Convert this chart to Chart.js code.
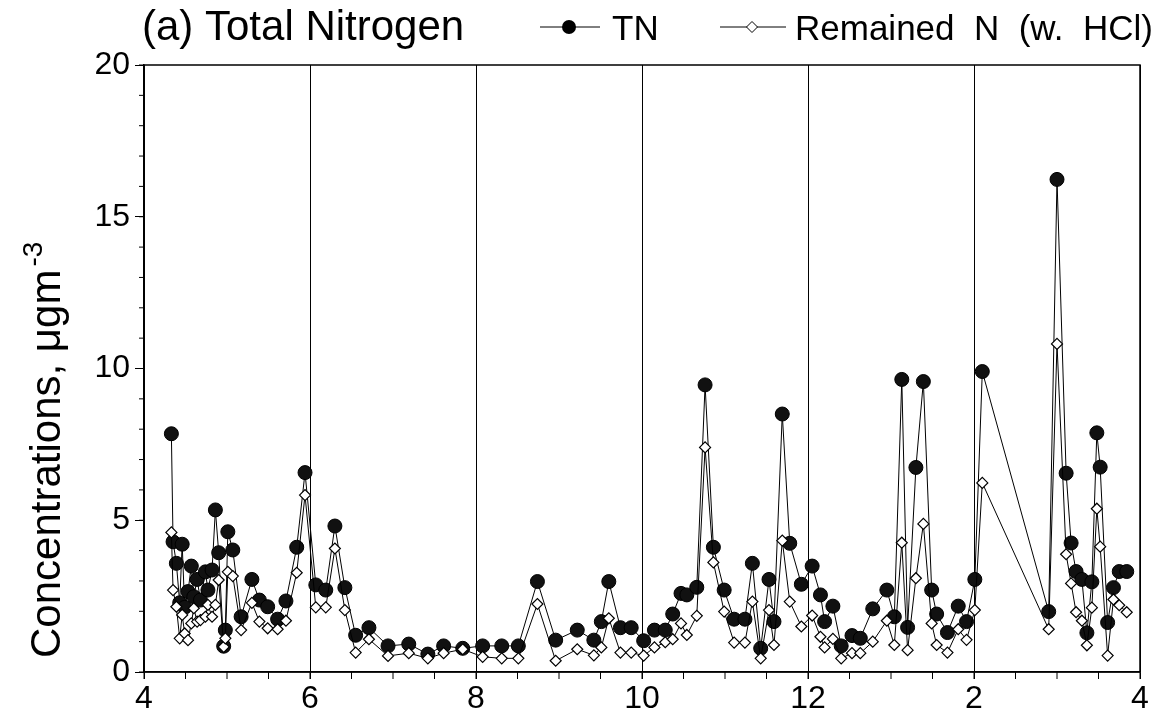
<!DOCTYPE html>
<html>
<head>
<meta charset="utf-8">
<script src="https://cdn.jsdelivr.net/npm/chart.js@4/dist/chart.umd.min.js"></script>
<style>
  body { margin: 0; background: #fff; }
  #wrap { width: 1161px; height: 712px; }
</style>
</head>
<body>
<div id="wrap"><canvas id="tnChart"></canvas></div>
<script>
// sampling dates as month numbers (4 = April ... 16 = April of next year)
const dates = [
  4.33, 4.35, 4.39, 4.43, 4.46, 4.49, 4.53, 4.57, 4.6, 4.64, 4.68, 4.74, 4.77, 4.82, 4.86,
  4.9, 4.96, 4.98, 5.01, 5.07, 5.17, 5.3, 5.39, 5.49, 5.61, 5.71, 5.84, 5.94, 6.07,
  6.19, 6.3, 6.42, 6.55, 6.71, 6.94, 7.19, 7.42, 7.61, 7.84, 8.08, 8.31, 8.51, 8.74, 8.96,
  9.22, 9.42, 9.51, 9.6, 9.74, 9.87,
  10.02, 10.15, 10.28, 10.37, 10.47, 10.54, 10.66, 10.76, 10.86, 10.99, 11.11, 11.24, 11.33,
  11.43, 11.53, 11.59, 11.69, 11.78, 11.92,
  12.05, 12.15, 12.2, 12.3, 12.4, 12.53, 12.63, 12.78, 12.95, 13.04, 13.13, 13.2, 13.3, 13.39,
  13.49, 13.55, 13.68, 13.81, 13.91, 14.01, 14.1,
  14.9, 15.0, 15.11, 15.17, 15.23, 15.3, 15.36, 15.42, 15.48, 15.52, 15.61, 15.68, 15.75, 15.84
];

const tn = [
  7.85, 4.29, 3.58, 2.28, 4.21, 2.13, 2.65, 3.49, 2.48, 3.05, 2.37, 3.3, 2.7, 3.36, 5.34,
  3.93, 0.85, 1.38, 4.62, 4.02, 1.82, 3.05, 2.37, 2.15, 1.74, 2.34, 4.11, 6.57, 2.87,
  2.7, 4.81, 2.78, 1.21, 1.46, 0.86, 0.92, 0.59, 0.86, 0.78, 0.86, 0.86, 0.86, 2.98, 1.05,
  1.38, 1.05, 1.66, 2.98, 1.46, 1.46,
  1.03, 1.38, 1.38, 1.91, 2.59, 2.54, 2.79, 9.46, 4.11, 2.7, 1.74, 1.74, 3.58,
  0.78, 3.05, 1.66, 8.5, 4.24, 2.89,
  3.49, 2.54, 1.66, 2.17, 0.86, 1.2, 1.11, 2.08, 2.7, 1.82, 9.64, 1.47, 6.74, 9.57,
  2.7, 1.91, 1.3, 2.17, 1.66, 3.05, 9.9,
  1.99, 16.23, 6.55, 4.25, 3.31, 3.05, 1.29, 2.97, 7.88, 6.75, 1.63, 2.78, 3.31, 3.31
];

const remainedN = [
  4.6, 2.7, 2.15, 1.11, 1.88, 1.27, 1.05, 1.6, 2.1, 1.66, 1.71, 1.82, 2.21, 1.82, 2.21,
  3.03, 0.83, 1.11, 3.3, 3.16, 1.38, 2.28, 1.66, 1.44, 1.41, 1.69, 3.27, 5.83, 2.13,
  2.13, 4.07, 2.04, 0.64, 1.08, 0.53, 0.62, 0.45, 0.62, 0.75, 0.5, 0.45, 0.45, 2.24, 0.37,
  0.75, 0.55, 0.81, 1.77, 0.64, 0.64,
  0.54, 0.81, 0.98, 1.08, 1.6, 1.22, 1.85, 7.4, 3.61, 1.99, 0.97, 0.97, 2.32,
  0.45, 2.04, 0.89, 4.33, 2.32, 1.5,
  1.86, 1.16, 0.81, 1.09, 0.45, 0.62, 0.62, 1.0, 1.69, 0.89, 4.26, 0.72, 3.09, 4.88,
  1.6, 0.89, 0.64, 1.41, 1.06, 2.04, 6.23,
  1.41, 10.81, 3.88, 2.92, 1.97, 1.69, 0.88, 2.12, 5.38, 4.13, 0.54, 2.39, 2.2, 1.97
];

const monthTicks = ['4', '6', '8', '10', '12', '2', '4'];
const titleText = '(a) Total Nitrogen';
const legendNames = ['TN', 'Remained  N  (w.  HCl)'];
const yTitle = 'Concentrations, \u03BCgm';
const yTitleSup = '-3';

const FONT = '"Liberation Sans", Arial, sans-serif';

function toPoints(vals) {
  return vals.map((v, i) => ({ x: dates[i], y: v }));
}

// frame, minor ticks, title, legend, y title
const extras = {
  id: 'extras',
  afterDraw(chart) {
    const { ctx, chartArea: a, scales: { x, y } } = chart;
    ctx.save();
    ctx.strokeStyle = '#000';
    ctx.lineWidth = 1.5;
    ctx.strokeRect(a.left, a.top, a.right - a.left, a.bottom - a.top);

    ctx.lineWidth = 1;
    ctx.beginPath();
    for (let v = y.min; v <= y.max; v += 1) {
      const p = y.getPixelForValue(v);
      ctx.moveTo(a.left - 5, p);
      ctx.lineTo(a.left, p);
    }
    for (let v = x.min; v <= x.max; v += 0.5) {
      const p = x.getPixelForValue(v);
      ctx.moveTo(p, a.bottom);
      ctx.lineTo(p, a.bottom + 7);
    }
    ctx.stroke();

    ctx.fillStyle = '#000';
    ctx.textBaseline = 'alphabetic';
    ctx.textAlign = 'left';
    ctx.font = '42px ' + FONT;
    ctx.fillText(titleText, 142, 40);

    // legend
    ctx.font = '35px ' + FONT;
    ctx.lineWidth = 1;
    ctx.beginPath();
    ctx.moveTo(540, 27); ctx.lineTo(600, 27);
    ctx.moveTo(720, 27); ctx.lineTo(786, 27);
    ctx.stroke();
    ctx.beginPath();
    ctx.arc(569, 27, 7, 0, Math.PI * 2);
    ctx.fill();
    ctx.beginPath();
    ctx.moveTo(752, 21.5); ctx.lineTo(757.5, 27); ctx.lineTo(752, 32.5); ctx.lineTo(746.5, 27);
    ctx.closePath();
    ctx.fillStyle = '#fff';
    ctx.fill();
    ctx.stroke();
    ctx.fillStyle = '#000';
    ctx.fillText(legendNames[0], 612, 40);
    ctx.fillText(legendNames[1], 795, 40);

    // y axis title with superscript
    ctx.translate(60, 658);
    ctx.rotate(-Math.PI / 2);
    ctx.font = '42px ' + FONT;
    ctx.fillText(yTitle, 0, 0);
    const w = ctx.measureText(yTitle).width;
    ctx.font = '28px ' + FONT;
    ctx.fillText(yTitleSup, w + 3, -18);
    ctx.restore();
  }
};

new Chart(document.getElementById('tnChart'), {
  type: 'line',
  data: {
    datasets: [{
      label: legendNames[0],
      data: toPoints(tn),
      borderColor: '#000',
      borderWidth: 1,
      backgroundColor: '#000',
      pointRadius: 7,
      pointBackgroundColor: '#111',
      pointBorderColor: '#000',
      pointBorderWidth: 1,
      order: 2
    }, {
      label: legendNames[1],
      data: toPoints(remainedN),
      borderColor: '#000',
      borderWidth: 1,
      backgroundColor: '#fff',
      pointStyle: 'rectRot',
      pointRadius: 5.5,
      pointBackgroundColor: '#fff',
      pointBorderColor: '#000',
      pointBorderWidth: 1.2,
      order: 1
    }]
  },
  options: {
    responsive: true,
    maintainAspectRatio: false,
    animation: false,
    layout: { padding: { top: 65, right: 21, left: 0, bottom: 0 } },
    plugins: {
      legend: { display: false },
      tooltip: { enabled: false }
    },
    scales: {
      x: {
        type: 'linear',
        min: 4,
        max: 16,
        afterFit: s => { s.height = 40; },
        ticks: {
          stepSize: 2,
          color: '#000',
          padding: 1,
          font: { family: FONT, size: 32 },
          callback: v => monthTicks[Math.round((v - 4) / 2)]
        },
        grid: { color: '#000', lineWidth: 1, tickLength: 7, drawOnChartArea: true },
        border: { color: '#000', width: 1.5 }
      },
      y: {
        min: 0,
        max: 20,
        afterFit: s => { s.width = 144; },
        ticks: {
          stepSize: 5,
          color: '#000',
          padding: 5,
          font: { family: FONT, size: 32 }
        },
        grid: { color: '#000', tickLength: 9, drawOnChartArea: false },
        border: { color: '#000', width: 1.5 }
      }
    }
  },
  plugins: [extras]
});
</script>
</body>
</html>
